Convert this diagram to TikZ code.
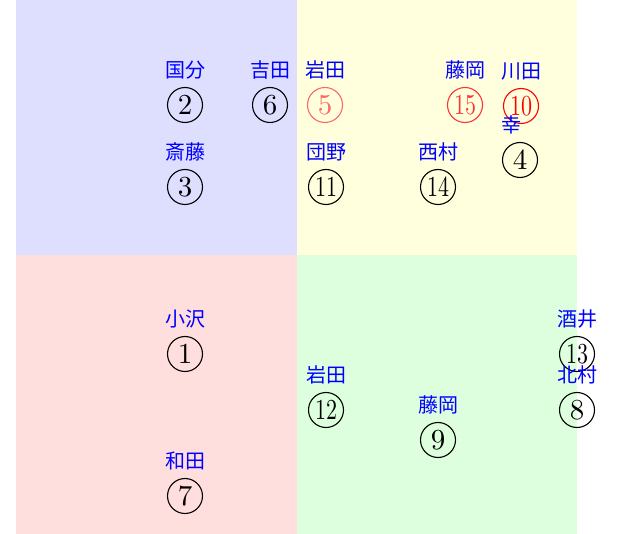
\documentclass[tikz,border=0pt]{standalone}
\usepackage{fontspec}
\newfontfamily\jpfont{Noto Sans CJK JP}
\usetikzlibrary{positioning}
\definecolor{QBlue}{RGB}{222,222,255}
\definecolor{QYellow}{RGB}{255,255,222}
\definecolor{QRed}{RGB}{255,222,222}
\definecolor{QGreen}{RGB}{222,255,222}
\newcommand{\onedig}[1]{\scalebox{1.45}{#1}}
\newcommand{\twodig}[1]{\scalebox{1.1}[1.45]{#1}}

\begin{document}
\begin{tikzpicture}[x=0.5pt,y=-0.5pt,
	seat/.style={circle,draw,minimum size=17.5pt,inner sep=0pt,line width=0.55pt,font=\fontsize{10}{10}\selectfont},
	jname/.style={text=blue,font=\jpfont\fontsize{10}{12}\selectfont,inner sep=0pt,above=3.5pt of #1}]
		\useasboundingbox (0,0) rectangle (632,534);
		
		% 四つの区画
		\fill[QBlue] (16,0) rectangle (297,255);
		\fill[QYellow] (297,0) rectangle (577,255);
		\fill[QRed] (16,255) rectangle (297,534);
		\fill[QGreen] (297,255) rectangle (577,534);
		
		% 左上
		\node[seat] (n2) at (185,105) {\onedig{2}};
		\node[seat] (n6) at (270,105) {\onedig{6}};
		\node[seat] (n3) at (185,187) {\onedig{3}};
		\node[jname=n2] (l2) {国分};
		\node[jname=n6] (l6) {吉田};
		\node[jname=n3] (l3) {斎藤};
		
		% 右上，赤は別色
		\node[seat,red!60] (n5) at (325,105) {\onedig{5}};
		\node[seat,red!80] (n15) at (465,105) {\twodig{15}};
		\node[seat,red] (n10) at (521,106) {\twodig{10}};
		\node[seat] (n11) at (326,187) {\twodig{11}};
		\node[seat] (n14) at (438,187) {\twodig{14}};
		\node[seat] (n4) at (520,160) {\onedig{4}};
		\node[jname=n5] (l5) {岩田};
		\node[jname=n15] (l15) {藤岡};
		\node[jname=n10] (l10) {川田};
		\node[jname=n11] (l11) {団野};
		\node[jname=n14] (l14) {西村};
		\node[jname=n4,xshift=-4.5pt] (l4) {幸};
		
		% 左下
		\node[seat] (n1) at (185,354) {\onedig{1}};
		\node[seat] (n7) at (185,496) {\onedig{7}};
		\node[jname=n1] (l1) {小沢};
		\node[jname=n7] (l7) {和田};
		
		% 右下
		\node[seat] (n12) at (326,410) {\twodig{12}};
		\node[seat] (n9) at (438,440) {\onedig{9}};
		\node[seat] (n13) at (577,354) {\twodig{13}};
		\node[seat] (n8) at (577,410) {\onedig{8}};
		\node[jname=n12] (l12) {岩田};
		\node[jname=n9] (l9) {藤岡};
		\node[jname=n13] (l13) {酒井};
		\node[jname=n8] (l8) {北村};
	\end{tikzpicture}
\end{document}
